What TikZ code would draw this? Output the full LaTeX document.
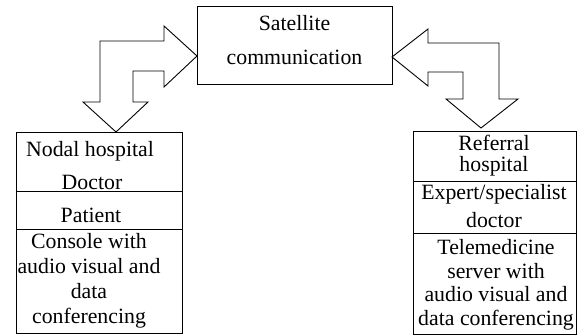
\documentclass[tikz,border=0pt]{standalone}
\usepackage{fontspec}
\setmainfont{Liberation Serif}
\begin{document}
\begin{tikzpicture}[x=1pt,y=-1pt,
  box/.style={draw,line width=0.9pt,inner sep=0pt},
  txt/.style={inner sep=0pt,font=\fontsize{21.8}{25}\selectfont,align=center},
  barrow/.style={draw,line width=0.9pt,line join=miter,fill=white}]
\useasboundingbox (0,0) rectangle (578,336);
% boxes
\node[box,minimum width=195pt,minimum height=78pt] (sat) at (294.5,45) {};
\node[box,minimum width=166pt,minimum height=201pt] (nodal) at (99,232.5) {};
\node[box,minimum width=163pt,minimum height=203pt] (ref) at (494.5,232.5) {};
% dividers
\coordinate (nd1l) at (16,191); \coordinate (nd1r) at (182,191);
\coordinate (nd2l) at (16,229); \coordinate (nd2r) at (182,229);
\coordinate (rd1l) at (413,181); \coordinate (rd1r) at (576,181);
\coordinate (rd2l) at (413,233); \coordinate (rd2r) at (576,233);
\draw[line width=0.9pt] (nd1l) -- (nd1r) (nd2l) -- (nd2r) (rd1l) -- (rd1r) (rd2l) -- (rd2r);
% texts
\node[txt] (t1) at (294.5,23) {Satellite};
\node[txt] (t2) at (294.5,57) {communication};
\node[txt] (n1) at (90,151) {Nodal hospital};
\node[txt] (n2) at (92,182) {Doctor};
\node[txt] (n3) at (91,215) {Patient};
\node[txt,font=\fontsize{21.8}{25}\selectfont] (n4) at (89,281) {Console with\\audio visual and\\data\\conferencing};
\node[txt,font=\fontsize{21.8}{20.5}\selectfont] (r1) at (494,155.5) {Referral\\hospital};
\node[txt,font=\fontsize{21.8}{28}\selectfont] (r2) at (494,206) {Expert/specialist\\doctor};
\node[txt,font=\fontsize{21.8}{23.5}\selectfont] (r3) at (496,285) {Telemedicine\\server with\\audio visual and\\data conferencing};
% block arrows
\draw[barrow] (197,56) -- (164,26) -- (164,41) -- (100,41) -- (100,102) -- (83,102) -- (116,132)
  -- (148,102) -- (133,102) -- (133,71) -- (164,71) -- (164,87) -- cycle;
\draw[barrow] (392,57) -- (428,29) -- (428,43) -- (499,43) -- (499,99) -- (518,99) -- (481,128)
  -- (446,99) -- (463,99) -- (463,72) -- (428,72) -- (428,86) -- cycle;
\end{tikzpicture}
\end{document}
